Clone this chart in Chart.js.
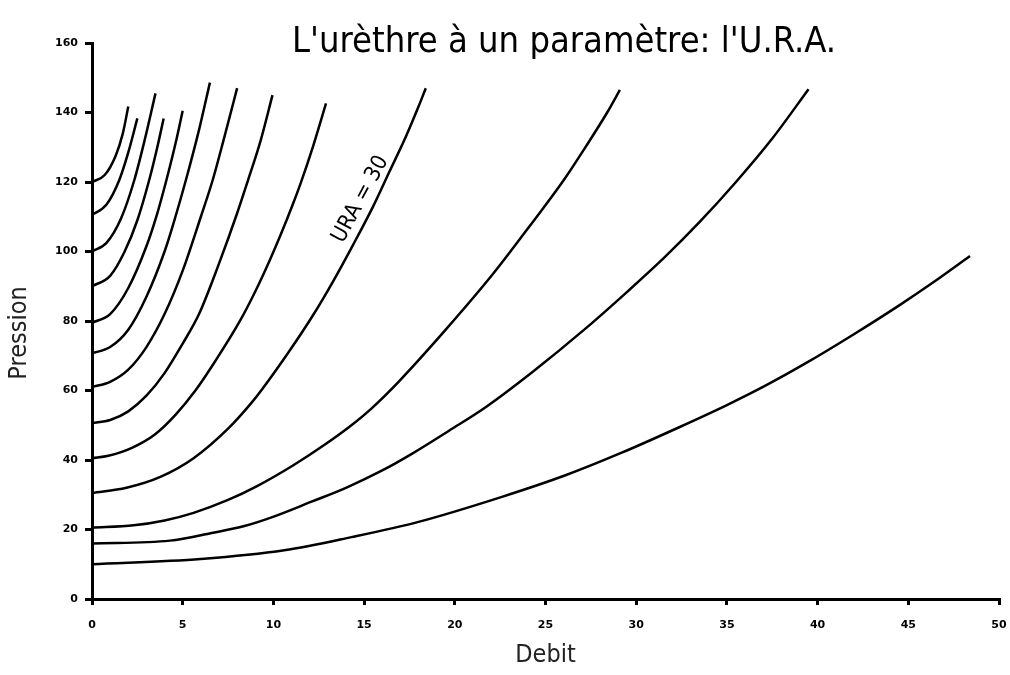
<!DOCTYPE html>
<html>
<head>
<meta charset="utf-8">
<script src="https://cdn.jsdelivr.net/npm/chart.js@4.4.0/dist/chart.umd.min.js"></script>
<style>
  html, body { margin: 0; padding: 0; background: #fff; }
  #wrap { width: 1010px; height: 675px; position: relative; }
</style>
</head>
<body>
<div id="wrap"><canvas id="ura-chart"></canvas></div>
<script>
const debitTicks = [0, 5, 10, 15, 20, 25, 30, 35, 40, 45, 50];
const pressionTicks = [0, 20, 40, 60, 80, 100, 120, 140, 160];

// one curve per URA value, points read as [debit, pression]
const ura10 = [[0, 10], [6, 11.5], [10.6, 14], [14.3, 17.8], [18, 22.2], [22.6, 29.4], [26.1, 35.6], [29.2, 42.1], [32.4, 49.5], [35, 55.8], [37.2, 61.6], [39.4, 68], [42, 76.2], [44.5, 84.5], [46.4, 91.2], [48.4, 98.7]];
const ura15 = [[0, 16], [4.3, 16.8], [6.6, 19], [8.4, 21], [9.9, 23.5], [12.1, 28], [14, 32], [16, 37], [17.7, 42], [19.7, 48.5], [21.7, 55.2], [24.3, 65.4], [27.2, 77.8], [29.5, 88.4], [31.5, 98], [33.5, 108.5], [35.5, 120], [37.5, 132.5], [39.5, 146.7]];
const ura20 = [[0, 20.5], [2.3, 21.2], [4, 22.6], [5.6, 24.8], [7.5, 28.5], [9.1, 32.5], [11.1, 38.5], [12.8, 44.3], [14.3, 50], [15.4, 54.8], [16.9, 62.5], [19.5, 77.5], [22.1, 93.5], [24.3, 108.5], [26, 120.5], [27.2, 130], [28.4, 140], [29.1, 146.5]];
const ura30 = [[0, 30.5], [1.9, 32], [3.8, 35.2], [5.6, 40.5], [7.5, 49], [8.8, 56.5], [9.4, 60.5], [10.9, 71.5], [12.2, 81.8], [13.3, 91.5], [14.4, 102], [15.5, 113], [16.4, 123], [17.3, 133], [18, 141.7], [18.4, 147]];
const ura40 = [[0, 40.5], [0.9, 41.2], [2.2, 43.5], [3.5, 47.5], [4.6, 53], [5.7, 60], [6.8, 68.5], [8.1, 79.5], [9, 88.5], [9.8, 97.5], [10.4, 104.8], [11.05, 113.3], [11.5, 119.6], [12.2, 130.5], [12.9, 142.6]];
const ura50 = [[0, 50.6], [1, 51.5], [2, 54], [3, 58.5], [4, 65], [5, 73.5], [5.9, 82], [7, 96.5], [8, 111], [8.6, 120.5], [9.3, 132], [9.95, 145]];
const ura60 = [[0, 61], [1, 62.5], [2, 66], [3, 72.5], [4, 82], [5, 94.5], [6, 110], [6.65, 120.5], [7.3, 133], [8, 147]];
const ura70 = [[0, 70.7], [1, 72.5], [2, 77.5], [3, 87], [4, 100], [4.6, 110], [5.2, 121], [5.9, 135], [6.5, 148.6]];
const ura80 = [[0, 79.5], [1, 82], [2, 89.5], [3, 101.5], [3.6, 111], [4.1, 120.5], [4.6, 131], [5, 140.5]];
const ura90 = [[0, 90], [1, 93], [1.8, 100], [2.5, 109], [3.15, 120.5], [3.6, 130], [3.95, 138.3]];
const ura100 = [[0, 100], [0.8, 102.5], [1.6, 109.5], [2.33, 120.5], [2.9, 132], [3.5, 145.5]];
const ura110 = [[0, 110.5], [0.8, 113.5], [1.5, 120.5], [2, 128.5], [2.5, 138.3]];
const ura120 = [[0, 120], [0.7, 122], [1.3, 127.5], [1.7, 134], [2, 141.7]];

const uraNames = ['10', '15', '20', '30', '40', '50', '60', '70', '80', '90', '100', '110', '120'];
const uraCurves = [ura10, ura15, ura20, ura30, ura40, ura50, ura60, ura70, ura80, ura90, ura100, ura110, ura120];

const narrow = "'Liberation Sans Narrow', 'DejaVu Sans Condensed', sans-serif";

// title, axis names and the "URA = 30" tag
const textLayer = {
    id: 'textLayer',
    afterDraw(chart) {
        const { ctx, scales: { x, y } } = chart;
        ctx.save();
        ctx.fillStyle = '#000';
        ctx.textAlign = 'center';
        ctx.textBaseline = 'alphabetic';
        ctx.font = '36px ' + narrow;
        ctx.fillText("L'urèthre à un paramètre: l'U.R.A.", 564, 52);

        ctx.fillStyle = '#222';
        ctx.textBaseline = 'middle';
        ctx.font = '25px ' + narrow;
        ctx.fillText('Debit', (x.left + x.right) / 2, 655);

        ctx.save();
        ctx.translate(19, 333);
        ctx.rotate(-Math.PI / 2);
        ctx.fillText('Pression', 0, 0);
        ctx.restore();

        ctx.fillStyle = '#000';
        ctx.translate(x.getPixelForValue(14.8), y.getPixelForValue(115));
        ctx.rotate(-61.5 * Math.PI / 180);
        ctx.font = '22px ' + narrow;
        ctx.fillText('URA = 30', 0, 0);
        ctx.restore();
    }
};

const uraCanvas = document.getElementById('ura-chart');
const uraChart = new Chart(uraCanvas, {
    type: 'scatter',
    data: {
        datasets: uraCurves.map((pts, i) => ({
            label: 'URA ' + uraNames[i],
            data: pts.map(p => ({ x: p[0], y: p[1] })),
            showLine: true,
            borderColor: '#000',
            borderWidth: 2.5,
            pointRadius: 0,
            cubicInterpolationMode: 'monotone'
        }))
    },
    options: {
        responsive: true,
        maintainAspectRatio: false,
        animation: false,
        layout: {
            padding: { left: 0, top: 43, right: 0, bottom: 0 }
        },
        scales: {
            x: {
                type: 'linear',
                min: debitTicks[0],
                max: debitTicks[debitTicks.length - 1],
                afterBuildTicks: s => { s.ticks = debitTicks.map(v => ({ value: v })); },
                afterFit: s => {
                    s.height = 76;
                    s.paddingLeft = 0;
                    s.paddingRight = 11;
                },
                border: { color: '#000', width: 3 },
                grid: { drawOnChartArea: false, color: '#000', lineWidth: 3, tickLength: 6 },
                ticks: {
                    color: '#000',
                    padding: 14,
                    maxRotation: 0,
                    font: { size: 11, weight: 'bold', family: 'DejaVu Sans' }
                }
            },
            y: {
                type: 'linear',
                min: pressionTicks[0],
                max: pressionTicks[pressionTicks.length - 1],
                afterBuildTicks: s => { s.ticks = pressionTicks.map(v => ({ value: v })); },
                afterFit: s => { s.width = 92; },
                border: { color: '#000', width: 3 },
                grid: { drawOnChartArea: false, color: '#000', lineWidth: 3, tickLength: 7 },
                ticks: {
                    color: '#000',
                    padding: 7,
                    font: { size: 11, weight: 'bold', family: 'DejaVu Sans' }
                }
            }
        },
        plugins: {
            legend: { display: false },
            tooltip: { enabled: false }
        }
    },
    plugins: [textLayer]
});
</script>
</body>
</html>
